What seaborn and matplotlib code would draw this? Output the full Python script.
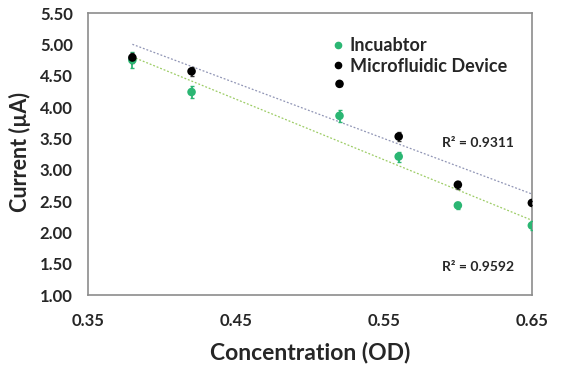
import numpy as np
import matplotlib
matplotlib.use('Agg')
import matplotlib.pyplot as plt
import seaborn as sns
from matplotlib.lines import Line2D

# data
conc = [0.38, 0.42, 0.52, 0.56, 0.60, 0.65]
incubator = [4.75, 4.24, 3.86, 3.21, 2.43, 2.11]
incubator_err = [0.13, 0.10, 0.10, 0.08, 0.05, 0.07]
device = [4.79, 4.57, 4.37, 3.53, 2.76, 2.47]
device_err = [0.08, 0.07, 0.03, 0.07, 0.06, 0.03]
r2_device = 'R² = 0.9311'
r2_incubator = 'R² = 0.9592'
xticks = [0.35, 0.45, 0.55, 0.65]
yticks = [1.0, 1.5, 2.0, 2.5, 3.0, 3.5, 4.0, 4.5, 5.0, 5.5]

green = '#2bb673'
sns.set_style('white')
plt.rcParams['font.family'] = ['Lato', 'DejaVu Sans']
plt.rcParams['font.weight'] = 'bold'

fig = plt.figure(figsize=(5.64, 3.73), dpi=100)
ax = fig.add_axes([0.156, 0.209, 0.787, 0.756])

# trend lines
sns.regplot(x=conc, y=device, ax=ax, scatter=False, ci=None, truncate=True,
            line_kws=dict(color='#9095b5', lw=0.9, ls=(0, (1.5, 1.5))))
sns.regplot(x=conc, y=incubator, ax=ax, scatter=False, ci=None, truncate=True,
            line_kws=dict(color='#9ccc65', lw=0.9, ls=(0, (1.5, 1.5))))

ax.errorbar(conc, incubator, yerr=incubator_err, fmt='none', ecolor=green,
            elinewidth=1.3, capsize=1.5, zorder=3)
ax.errorbar(conc, device, yerr=device_err, fmt='none', ecolor='#333333',
            elinewidth=1.3, capsize=1.5, zorder=3)
sns.scatterplot(x=conc, y=incubator, ax=ax, color=green, s=38, edgecolor='none', zorder=4)
sns.scatterplot(x=conc, y=device, ax=ax, color='black', s=38, edgecolor='none', zorder=5)

ax.set_xlim(0.35, 0.65)
ax.set_ylim(1.0, 5.5)
ax.set_xticks(xticks)
ax.set_xticklabels([f'{t:.2f}' for t in xticks])
ax.set_yticks(yticks)
ax.set_yticklabels([f'{t:.2f}' for t in yticks])
ax.tick_params(axis='x', length=0, pad=13, labelsize=12, labelcolor='#262626')
ax.tick_params(axis='y', length=0, pad=11, labelsize=12, labelcolor='#262626')
for s in ax.spines.values():
    s.set_color('#8c8c8c')
    s.set_linewidth(1.2)

ax.set_xlabel('Concentration (OD)', fontsize=16.5, fontweight='bold')
ax.set_ylabel('Current (µA)', fontsize=15.5, fontweight='bold')
ax.xaxis.set_label_coords(0.5, -0.202)
ax.xaxis.label.set(va='center', ha='center')
ax.yaxis.set_label_coords(-0.153, 0.507)
ax.yaxis.label.set(va='center', ha='center')

ax.text(0.638, 3.43, r2_device, ha='right', va='center', fontsize=10, fontweight='bold', color='#262626')
ax.text(0.638, 1.45, r2_incubator, ha='right', va='center', fontsize=10, fontweight='bold', color='#262626')

handles = [
    Line2D([], [], ls='none', marker='o', color=green, ms=4.5),
    Line2D([], [], ls='none', marker='o', color='black', ms=4.5),
]
ax.legend(handles, ['Incuabtor', 'Microfluidic Device'], loc='upper left',
          bbox_to_anchor=(0.527, 0.94), frameon=False, handletextpad=0.15,
          handlelength=1.0, labelspacing=0.2, borderaxespad=0,
          prop=dict(size=13, weight='bold'))

fig.savefig('out.png', dpi=100)
